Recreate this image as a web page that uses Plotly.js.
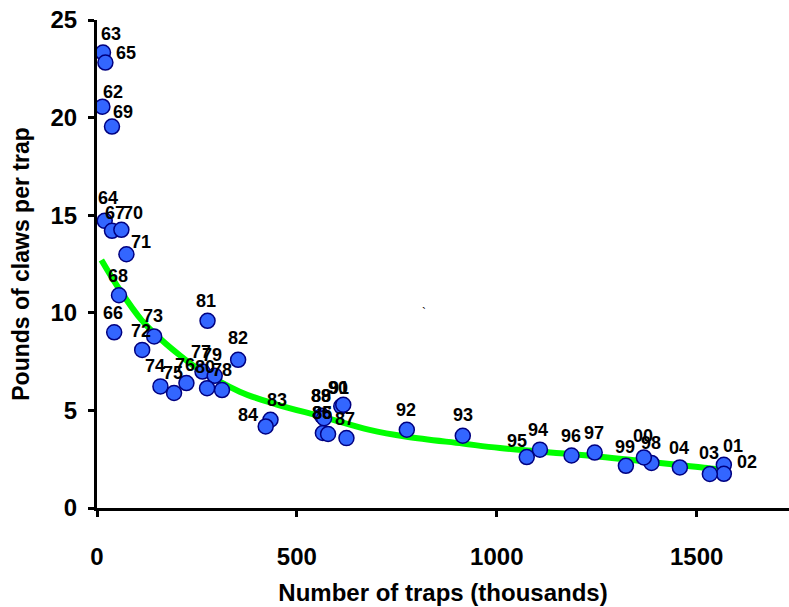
<!DOCTYPE html>
<html>
<head>
<meta charset="utf-8">
<script src="https://cdn.plot.ly/plotly-3.0.1.min.js"></script>
<style>html,body{margin:0;padding:0;background:#fff;}#chart{width:789px;height:607px;}</style>
</head>
<body>
<div id="chart"></div>
<script>
// Season labels (year of season)
const seasons = ['62','63','64','65','66','67','68','69','70','71','72','73','74','75','76','77','78','79','80','81','82','83','84','85','86','87','88','89','90','91','92','93','94','95','96','97','98','99','00','01','02','03','04'];
// Number of traps (thousands)
const traps = [13.5,15,19.3,21,43,37.5,55,37.5,61,73.6,113,143,158.7,192.7,223.7,263.8,312.7,294.5,275.3,276.5,353,434,422,565,578,624,563,568,611,616,775,915,1108,1075,1187,1245,1387,1323,1368,1568,1568,1533,1458];
// Pounds of claws per trap
const poundsPerTrap = [20.56,23.33,14.71,22.82,9.0,14.2,10.9,19.54,14.25,13.0,8.1,8.79,6.23,5.89,6.4,6.99,6.04,6.77,6.14,9.59,7.59,4.52,4.18,3.84,3.79,3.58,4.72,4.6,5.21,5.29,4.01,3.7,2.99,2.61,2.69,2.84,2.31,2.16,2.59,2.21,1.75,1.74,2.08];
// Fitted trend curve
const fitX = [11,56.8,111,161,211,244.5,357,450,565,682,775,915,1008,1258,1533,1568];
const fitY = [12.71,11.18,9.64,8.62,7.76,7.25,5.96,5.3,4.67,4.0,3.65,3.3,3.07,2.63,2.03,1.97];
// Axis ticks
const xTicks = [0,500,1000,1500];
const yTicks = [0,5,10,15,20,25];

// label placement offsets (pixels, dx right, dy down) — layout only
const labelOffsets = {
  '62':[10.6,-15],'63':[8.4,-18.7],'64':[3.3,-22.7],'65':[20.3,-9.4],'66':[-1.4,-19.4],'67':[2.7,-18],
  '68':[-1,-19.7],'69':[11,-15],'70':[11.6,-16.7],'71':[15,-12.3],'72':[-1.3,-18.6],'73':[-1,-20.7],
  '74':[-5.7,-20],'75':[-1,-20],'76':[-1.7,-18.3],'77':[-1,-20],'78':[0.4,-20],'79':[-2.3,-21],
  '80':[-2.3,-21.6],'81':[-2,-19.7],'82':[-0.6,-22.3],'83':[6,-19.3],'84':[-17.7,-11.7],'85':[-1.3,-20.3],
  '86':[-6.3,-21.3],'87':[-1.7,-19],'88':[-1,-20],'89':[-3,-22],'90':[-3,-18],'91':[-4,-17],
  '92':[-1,-20],'93':[0,-21],'94':[-1.7,-19.3],'95':[-10,-15.6],'96':[-1,-19],'97':[-0.7,-19.4],
  '98':[0,-20],'99':[-1,-19.3],'00':[-0.7,-21],'01':[8.7,-19],'02':[22.7,-12.3],'03':[-0.7,-21],'04':[-0.7,-19.4]
};

const FONT = 'Liberation Sans, Arial, Helvetica, sans-serif';

const traces = [
  {
    x: fitX, y: fitY, type: 'scatter', mode: 'lines',
    line: {color: 'rgb(0,255,0)', width: 6, shape: 'spline', smoothing: 1.0},
    hoverinfo: 'skip', showlegend: false
  },
  {
    x: traps, y: poundsPerTrap, type: 'scatter', mode: 'markers',
    marker: {size: 15, color: 'rgb(51,102,255)', line: {color: 'rgb(0,0,128)', width: 1.5}},
    showlegend: false
  }
];

const annotations = seasons.map((s, i) => {
  const off = labelOffsets[s] || [0, -20];
  return {
    x: traps[i], y: poundsPerTrap[i], xref: 'x', yref: 'y',
    text: '<b>' + s + '</b>', showarrow: false,
    xanchor: 'center', yanchor: 'middle',
    xshift: off[0], yshift: -off[1],
    font: {family: FONT, size: 18, color: '#000'}
  };
});
// small stray mark in the original
annotations.push({x: 818, y: 9.98, xref: 'x', yref: 'y', text: '`', showarrow: false,
  font: {family: FONT, size: 12, color: '#000'}});

const layout = {
  width: 789, height: 607,
  margin: {l: 97, r: 0, t: 20, b: 99, pad: 0},
  paper_bgcolor: '#fff', plot_bgcolor: '#fff',
  showlegend: false,
  xaxis: {
    range: [0, 1731], tickvals: xTicks, ticktext: xTicks.map(v => '<b>' + v + '</b>'),
    showgrid: false, zeroline: false, showline: true, linecolor: '#000', linewidth: 3,
    ticks: 'outside', ticklen: 6, tickwidth: 3, tickcolor: '#000',
    ticklabelstandoff: 19,
    tickfont: {family: FONT, size: 24, color: '#000'},
    title: {text: '<b>Number of traps (thousands)</b>', font: {family: FONT, size: 24, color: '#000'}, standoff: 16}
  },
  yaxis: {
    range: [0, 25], tickvals: yTicks, ticktext: yTicks.map(v => '<b>' + v + '</b>'),
    showgrid: false, zeroline: false, showline: true, linecolor: '#000', linewidth: 3,
    ticks: 'outside', ticklen: 6, tickwidth: 3, tickcolor: '#000',
    ticklabelstandoff: 6,
    tickfont: {family: FONT, size: 24, color: '#000'},
    title: {text: '<b>Pounds of claws per trap</b>', font: {family: FONT, size: 23, color: '#000'}, standoff: 15}
  },
  annotations: annotations
};

Plotly.newPlot('chart', traces, layout, {staticPlot: true, displayModeBar: false});
</script>
</body>
</html>
